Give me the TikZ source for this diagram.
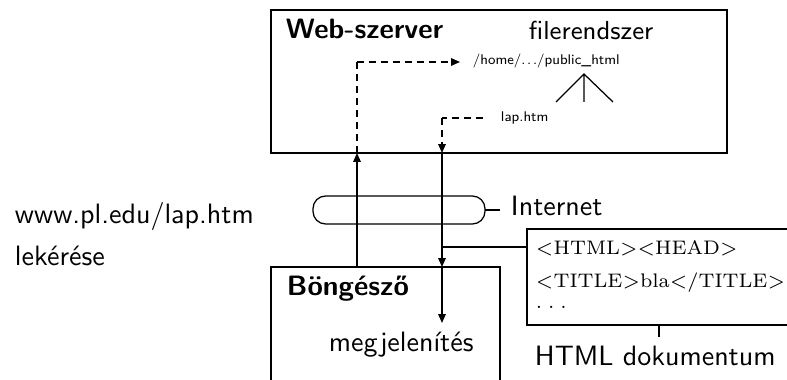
\documentclass[tikz,border=0pt]{standalone}
\usepackage{fontspec}
\usetikzlibrary{arrows.meta,fit}
\begin{document}
\begin{tikzpicture}[x=0.357pt,y=-0.357pt,
  every node/.style={font=\sffamily, inner sep=0pt, outer sep=0pt},
  box/.style={draw, line width=0.45pt, inner sep=0pt},
  ln/.style={line width=0.45pt},
  tip/.style={-{Triangle[length=3.2pt,width=2.7pt]}},
  arr/.style={ln, tip},
  dsh/.style={ln, dash pattern=on 2.4pt off 1.9pt},
  tinylbl/.style={font=\sffamily\tiny},
  htmltxt/.style={font=\rmfamily\fontsize{7.0}{9}\selectfont}]
\clip (0,0) rectangle (787,380);
% boxes
\node[box, fit={(271,10) (727,153)}] (server) {};
\node[box, fit={(271,267) (500,420)}] (browser) {};
\node[box, rounded corners=4.5pt, fit={(313,196) (485,224)}] (inet) {};
\node[box, fit={(527,229) (800,325)}] (html) {};
% texts
\node[anchor=base west, font=\sffamily\bfseries] (wst) at (286,39) {Web-szerver};
\node[anchor=base west, font=\sffamily\fontsize{9.3}{11}\selectfont] (fs) at (529,40) {filerendszer};
\node[anchor=base west, tinylbl] (home) at (473,65) {/home/.\hspace{0.12em}.\hspace{0.12em}./public\_html};
\node[anchor=base west, tinylbl] (lap) at (501,122) {lap.htm};
\node[anchor=base west] (inettxt) at (511,216) {Internet};
\node[anchor=base west] (req1) at (15,224) {www.pl.edu/lap.htm};
\node[anchor=base west] (req2) at (15,266) {lekérése};
\node[anchor=base west, font=\sffamily\bfseries] (bt) at (287,296) {Böngésző};
\node[anchor=base west] (megj) at (329,352) {megjelenítés};
\node[anchor=base west, htmltxt] (h1) at (536,255) {$<$HTML$>$$<$HEAD$>$};
\node[anchor=base west, htmltxt] (h2) at (536,288) {$<$TITLE$>$bla$<$/TITLE$>$};
\node[anchor=base west, htmltxt] (h3) at (536,309) {.\hspace{0.3em}.\hspace{0.3em}.};
\node[anchor=base west] (hdoc) at (535,366) {HTML dokumentum};
% tree
\coordinate (apex) at (584,74);
\coordinate (l1) at (556,102);
\coordinate (l2) at (584,102);
\coordinate (l3) at (613,102);
\draw[ln] (l1) -- (apex) -- (l3) (apex) -- (l2);
% request path
\coordinate (upx) at (357,0);
\coordinate (reqcorner) at (357,62);
\coordinate (reqtip) at (460,62);
\draw[arr] (upx |- browser.north) -- (upx |- server.south);
\draw[dsh] (upx |- server.south) -- (reqcorner);
\draw[dsh, tip] (reqcorner) -- (reqtip);
% response path
\coordinate (dnx) at (442,0);
\coordinate (respstart) at (483,118);
\coordinate (respcorner) at (442,118);
\coordinate (megjtip) at (442,323);
\draw[dsh] (respstart) -- (respcorner);
\draw[dsh, tip] (respcorner) -- (dnx |- server.south);
\draw[arr] (dnx |- server.south) -- (dnx |- browser.north);
\draw[arr] (dnx |- browser.north) -- (megjtip);
\coordinate (branch) at (442,247);
\draw[ln] (branch) -- (branch -| html.west);
% internet label line
\draw[ln] (inet.east) -- (inet.east -| browser.east);
% html doc tick
\coordinate (tickx) at (659,0);
\coordinate (tickend) at (659,337);
\draw[ln] (tickx |- html.south) -- (tickend);
\end{tikzpicture}
\end{document}
